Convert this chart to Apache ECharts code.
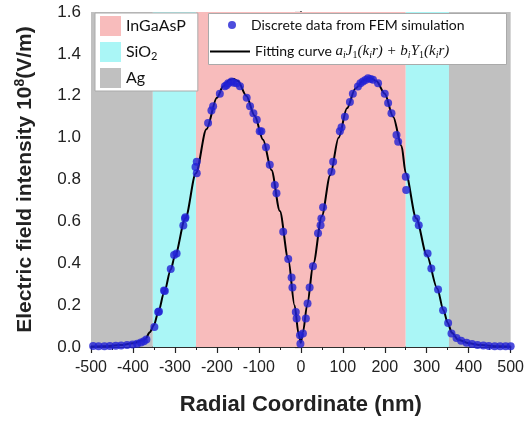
<!DOCTYPE html>
<html><head><meta charset="utf-8">
<script src="https://cdn.jsdelivr.net/npm/echarts@6/dist/echarts.min.js"></script>
<style>html,body{margin:0;padding:0;background:#fff}#c{width:527px;height:422px}</style>
</head><body><div id="c"></div>
<script>
const xTicks = [-500,-400,-300,-200,-100,0,100,200,300,400,500];
const yTicks = [0,0.2,0.4,0.6,0.8,1.0,1.2,1.4,1.6];
const regionNames = ['InGaAsP','SiO2','Ag'];
const regionColors = ['#f8bcbc','#aaf6f6','#c0c0c0'];
const inGaAsPSpans = [[-250,250]];
const sio2Spans = [[-353,-250],[250,353]];
const agSpans = [[-500,-353],[353,500]];

const fitX = [-500,-470,-430,-400,-375,-370,-360,-350,-340,-325,-310,-300,-275,-250,-225,-200,-185,-170,-160,-150,-130,-110,-90,-70,-50,-30,-15,-5,0,5,15,30,50,70,90,110,130,150,165,180,200,220,240,250,275,300,325,340,350,360,375,400,430,470,500];
const fitY = [0.002,0.004,0.009,0.018,0.032,0.040,0.070,0.105,0.165,0.265,0.370,0.435,0.615,0.830,1.040,1.190,1.245,1.275,1.280,1.270,1.200,1.105,0.990,0.845,0.650,0.420,0.200,0.060,0.020,0.070,0.200,0.400,0.625,0.820,1.000,1.140,1.235,1.275,1.285,1.270,1.210,1.100,0.960,0.830,0.615,0.440,0.280,0.175,0.115,0.068,0.035,0.018,0.009,0.004,0.002];

const femX = [-495,-482,-468,-455,-441,-428,-414,-401,-390,-381,-374,-368,-349,-340,-338,-326,-324,-310,-302,-296,-280,-276,-275,-251,-248,-248,-221,-213,-209,-193,-181,-177,-173,-165,-160,-153,-145,-129,-121,-113,-105,-98,-94,-83,-74,-62,-58,-42,-30,-22,-20,-12,-10,-2,-1,5,12,16,21,29,41,47,49,53,73,77,93,97,105,117,124,136,142,148,154,160,166,172,184,200,208,216,228,232,250,251,275,281,302,311,327,339,351,359,371,382,395,408,421,435,448,462,475,488,500];
const femY = [0.005,0.004,0.004,0.005,0.006,0.007,0.009,0.012,0.016,0.022,0.028,0.036,0.096,0.167,0.170,0.270,0.268,0.372,0.440,0.447,0.580,0.614,0.620,0.860,0.885,0.830,1.070,1.130,1.150,1.210,1.245,1.250,1.260,1.268,1.262,1.260,1.245,1.190,1.150,1.117,1.085,1.030,1.030,0.954,0.870,0.774,0.734,0.550,0.420,0.332,0.284,0.167,0.136,0.056,0.016,0.064,0.136,0.208,0.284,0.386,0.543,0.582,0.614,0.667,0.837,0.885,1.030,1.050,1.100,1.170,1.210,1.244,1.260,1.268,1.275,1.284,1.280,1.276,1.260,1.210,1.165,1.117,1.013,0.980,0.813,0.750,0.614,0.582,0.447,0.375,0.275,0.176,0.115,0.064,0.043,0.030,0.020,0.014,0.010,0.007,0.005,0.004,0.003,0.003,0.003];

const chart = echarts.init(document.getElementById('c'));
const spans = [inGaAsPSpans, sio2Spans, agSpans];
const regionSeries = regionNames.map((n,i)=>({
  name:n, type:'line', data:[], itemStyle:{color:regionColors[i]}, lineStyle:{opacity:0},
  symbol:'rect', silent:true, z:1,
  markArea:{silent:true, itemStyle:{color:regionColors[i], opacity:1},
    data: spans[i].map(s=>[{xAxis:s[0]},{xAxis:s[1]}])}
}));
const axisCol = '#222';
chart.setOption({
  animation:false,
  grid:{left:91, right:16, top:12, bottom:75},
  graphic:[{type:'rect', shape:{x:208.5, y:13.5, width:298, height:51},
    style:{fill:'#fff', stroke:'#aaa', lineWidth:1}, z:50, silent:true}],
  legend:[{
    data:regionNames.map(n=>({name:n, icon:'rect'})),
    left:95, top:13, orient:'vertical', itemWidth:21, itemHeight:20, itemGap:6,
    backgroundColor:'#fff', borderColor:'#aaa', borderWidth:1, padding:[3,12,3,5],
    formatter: n => n==='SiO2' ? 'SiO{s|2}' : n,
    textStyle:{fontFamily:'Lato', fontSize:16, color:'#111', rich:{s:{fontFamily:'Lato', fontSize:11, verticalAlign:'bottom', padding:[9,0,0,0]}}},
    selectedMode:false, z:60
  },{
    data:[{name:'FEM', icon:'circle'}],
    left:228, top:18, itemWidth:8, itemHeight:8, itemGap:0, padding:0,
    formatter: () => 'Discrete data from FEM simulation',
    textStyle:{fontFamily:'Lato', fontSize:14, color:'#111', padding:[0,0,0,10]}, selectedMode:false, z:60
  },{
    data:[{name:'Fit', icon:'rect'}],
    left:210, top:44, itemWidth:40, itemHeight:2, itemGap:0, padding:0,
    formatter: () => 'Fitting curve {m|a}{s|i}{m|J}{n|1}{m|(k}{s|i}{m|r) + b}{s|i}{m|Y}{n|1}{m|(k}{s|i}{m|r)}',
    textStyle:{fontFamily:'Lato', fontSize:14, color:'#111',
      rich:{m:{fontFamily:'Liberation Serif', fontStyle:'italic', fontSize:15, color:'#111'},
            s:{fontFamily:'Liberation Serif', fontStyle:'italic', fontSize:10, color:'#111', verticalAlign:'bottom', padding:[7,0,0,0]},
            n:{fontFamily:'Liberation Serif', fontSize:10, color:'#111', verticalAlign:'bottom', padding:[7,0,0,0]}}},
    selectedMode:false, z:60
  }],
  xAxis:[{
    type:'value', min:-500, max:500, interval:100,
    name:'Radial Coordinate (nm)', nameLocation:'middle', nameGap:47,
    nameTextStyle:{fontFamily:'Liberation Sans', fontWeight:'bold', fontSize:22, color:'#222'},
    axisLine:{show:true, onZero:false, lineStyle:{color:axisCol, width:1.5}},
    axisTick:{show:true, length:6, lineStyle:{color:axisCol, width:1.2}},
    minorTick:{show:true, splitNumber:2, length:3, lineStyle:{color:axisCol, width:1}},
    splitLine:{show:false},
    axisLabel:{fontFamily:'Liberation Sans', fontSize:16, color:'#222', margin:13,
      formatter: v => xTicks.includes(v) ? String(v) : ''}
  },{
    type:'value', position:'top', min:-500, max:500,
    axisLine:{show:true, lineStyle:{color:axisCol, width:1.5}},
    axisTick:{show:false}, axisLabel:{show:false}, splitLine:{show:false}
  }],
  yAxis:[{
    type:'value', min:0, max:1.6, interval:0.2,
    name:'{a|Electric field intensity 10}{b|8}{a|(V/m)}', nameLocation:'middle', nameGap:54,
    nameTextStyle:{rich:{
      a:{fontFamily:'Liberation Sans', fontWeight:'bold', fontSize:21, color:'#222'},
      b:{fontFamily:'Liberation Sans', fontWeight:'bold', fontSize:14, color:'#222', verticalAlign:'top', padding:[0,0,10,0]}}},
    axisLine:{show:true, lineStyle:{color:axisCol, width:1.5}},
    axisTick:{show:true, length:6, lineStyle:{color:axisCol, width:1.2}},
    minorTick:{show:true, splitNumber:2, length:3, lineStyle:{color:axisCol, width:1}},
    splitLine:{show:false},
    axisLabel:{fontFamily:'Liberation Sans', fontSize:17, color:'#222', margin:10,
      formatter: v => yTicks.some(t=>Math.abs(t-v)<1e-9) ? v.toFixed(1) : ''}
  },{
    type:'value', position:'right', min:0, max:1.6,
    axisLine:{show:true, lineStyle:{color:axisCol, width:1.5}},
    axisTick:{show:false}, axisLabel:{show:false}, splitLine:{show:false}
  }],
  series:[
    ...regionSeries,
    {name:'Fit', type:'line', data:fitX.map((x,i)=>[x,fitY[i]]), smooth:0.3, smoothMonotone:'x',
      showSymbol:false, symbol:'none', lineStyle:{color:'#000', width:2}, itemStyle:{color:'#000'}, z:3},
    {name:'FEM', type:'scatter', data:femX.map((x,i)=>[x,femY[i]]), symbolSize:8,
      itemStyle:{color:'#2020d4'}, z:4}
  ]
});
</script></body></html>
